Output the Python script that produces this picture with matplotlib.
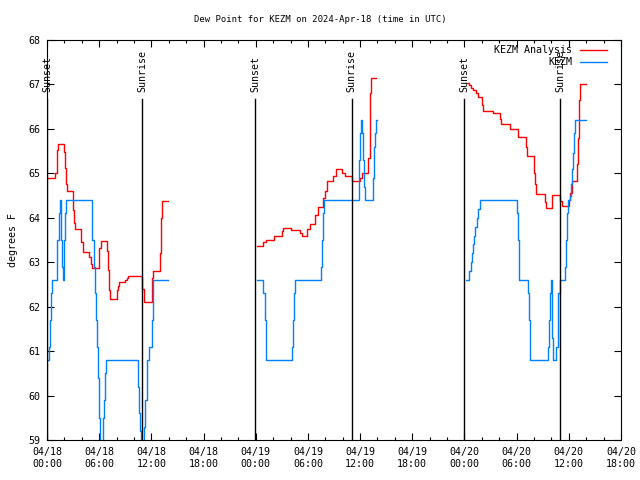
import numpy as np
import matplotlib
matplotlib.use('Agg')
import matplotlib.pyplot as plt

plt.rcParams['font.family'] = 'DejaVu Sans Mono'
plt.rcParams['font.size'] = 7.2

# hours since 04/18 00:00 UTC, step values (deg F); None splits the gaps
ana_t = [0.15, 0.92, 1.11, 1.19, 1.30, 1.95, 2.07, 2.18, 2.30, 2.95, 3.10, 3.18, 3.87, 3.95,
         4.10, 4.18, 4.86, 5.02, 5.21, 6.01, 6.17, 6.86, 6.97, 7.09, 7.24, 8.01, 8.12, 8.24,
         8.97, 9.16, 9.31, 10.0, 10.96, 11.11, 11.19, 12.03, 12.10, 12.22, 12.99, 13.10,
         13.22, 13.87, None,
         24.10, 24.87, 25.17, 26.09, 26.97, 27.16, 28.01, 29.08, 29.27, 29.92, 30.23, 30.84,
         31.19, 31.76, 31.99, 32.15, 32.91, 33.22, 33.87, 34.25, 35.02, 35.98, 36.21, 36.94,
         37.13, 37.24, 37.85, None,
         48.24, 48.5, 48.75, 49.0, 49.3, 49.58, 49.96, 50.15, 51.3, 52.07, 52.22, 53.22,
         54.21, 55.06, 55.17, 56.02, 56.13, 56.25, 57.24, 57.36, 58.12, 59.04, 59.2, 60.04,
         60.15, 60.31, 60.96, 61.07, 61.22, 61.34, 61.92]
ana_v = [64.89, 65.0, 65.26, 65.52, 65.65, 65.47, 65.11, 64.76, 64.6, 64.17, 63.88, 63.74, 63.65, 63.46,
         63.27, 63.22, 63.12, 62.97, 62.88, 63.31, 63.47, 63.25, 62.82, 62.37, 62.17, 62.37, 62.47, 62.55,
         62.6, 62.65, 62.7, 62.68, 62.39, 62.19, 62.1, 62.45, 62.65, 62.8, 63.2, 63.99,
         64.38, 64.38, None,
         63.36, 63.45, 63.5, 63.59, 63.7, 63.76, 63.72, 63.65, 63.59, 63.75, 63.87, 64.06,
         64.25, 64.45, 64.6, 64.83, 64.95, 65.09, 65.0, 64.94, 64.83, 64.9, 65.0, 65.34,
         66.8, 67.14, 67.14, None,
         67.03, 66.98, 66.93, 66.87, 66.8, 66.72, 66.54, 66.41, 66.35, 66.22, 66.11, 66.0,
         65.82, 65.6, 65.39, 65.0, 64.76, 64.53, 64.36, 64.23, 64.51, 64.38, 64.27, 64.4,
         64.56, 64.83, 65.2, 65.8, 66.65, 67.01, 67.01]

obs_t = [0.15, 0.26, 0.35, 0.43, 0.54, 1.19, 1.41, 1.53, 1.62, 1.72, 1.80, 1.95, 2.10, 2.22,
         5.21, 5.40, 5.55, 5.65, 5.75, 5.87, 5.98, 6.06, 6.40, 6.55, 6.65, 6.80,
         10.50, 10.60, 10.72, 10.80, 11.20, 11.32, 11.45, 11.55, 11.76, 12.03, 12.14, 12.22,
         13.87, None,
         24.18, 24.87, 25.02, 25.13, 25.21, 28.20, 28.28, 28.39, 28.51, 31.49, 31.61, 31.72,
         31.84, 35.90, 36.02, 36.13, 36.25, 36.36, 36.48, 36.59, 37.51, 37.62, 37.74, 37.85,
         37.89, None,
         48.16, 48.58, 48.70, 48.85, 48.97, 49.10, 49.25, 49.40, 49.60, 49.80, 54.02, 54.17,
         54.29, 54.32, 55.32, 55.40, 55.51, 55.55, 57.62, 57.74, 57.82, 57.97, 58.05, 58.16,
         58.58, 58.70, 58.81, 58.93, 59.58, 59.70, 59.82, 59.95, 60.10, 60.30, 60.42, 60.50,
         60.60, 60.69, 61.92]
obs_v = [60.8, 61.1, 61.7, 62.3, 62.6, 63.5, 64.1, 64.4, 63.5, 62.9, 62.6, 63.5, 64.1, 64.4,
         63.5, 62.9, 62.3, 61.7, 61.1, 60.4, 59.5, 58.4, 59.5, 59.9, 60.5, 60.8,
         60.2, 59.6, 59.2, 58.4, 59.3, 59.9, 60.5, 60.8, 61.1, 61.7, 62.3, 62.6,
         62.6, None,
         62.6, 62.3, 61.7, 61.1, 60.8, 61.1, 61.7, 62.3, 62.6, 62.9, 63.5, 64.1,
         64.4, 65.3, 65.9, 66.2, 65.9, 65.3, 64.7, 64.4, 64.9, 65.6, 65.9, 66.2,
         66.2, None,
         62.6, 62.8, 63.0, 63.2, 63.4, 63.6, 63.8, 64.0, 64.2, 64.4, 64.1, 63.5,
         62.9, 62.6, 62.3, 61.7, 61.1, 60.8, 61.1, 61.7, 62.3, 62.6, 61.3, 60.8,
         61.1, 61.7, 62.3, 62.6, 62.9, 63.5, 64.1, 64.4, 64.5, 64.75, 65.1, 65.45,
         65.9, 66.2, 66.2]

sunset = [0.02, 23.95, 47.97]
sunrise = [10.96, 35.02, 59.0]

tick_hours = list(range(0, 67, 6))
tick_labels = ['04/18\n00:00', '04/18\n06:00', '04/18\n12:00', '04/18\n18:00',
               '04/19\n00:00', '04/19\n06:00', '04/19\n12:00', '04/19\n18:00',
               '04/20\n00:00', '04/20\n06:00', '04/20\n12:00', '04/20\n18:00']

def arr(a):
    return np.array([np.nan if x is None else x for x in a], dtype=float)

fig = plt.figure(figsize=(6.4, 4.8), dpi=100)
ax = fig.add_axes([47/640, 40/480, 574/640, 400/480])

ax.plot(arr(ana_t), arr(ana_v), color='#ff0000', lw=1.0, drawstyle='steps-post', label='KEZM Analysis')
ax.plot(arr(obs_t), arr(obs_v), color='#0080ff', lw=1.0, drawstyle='steps-post', label='KEZM')

for x in sunset:
    ax.axvline(x, ymin=0, ymax=0.8525, color='black', lw=1.0)
    ax.text(x, 0.87, 'Sunset', rotation=90, ha='center', va='bottom',
            transform=ax.get_xaxis_transform())
for x in sunrise:
    ax.axvline(x, ymin=0, ymax=0.8525, color='black', lw=1.0)
    ax.text(x, 0.87, 'Sunrise', rotation=90, ha='center', va='bottom',
            transform=ax.get_xaxis_transform())

ax.set_xlim(0, 66)
ax.set_ylim(59, 68)
ax.set_xticks(tick_hours)
ax.set_xticklabels(tick_labels)
ax.set_xticks(range(0, 67, 2), minor=True)
ax.set_yticks(range(59, 69))
ax.tick_params(direction='in', top=True, right=True, length=5, width=0.8, pad=5)
ax.tick_params(which='minor', direction='in', top=True, length=2.5, width=0.8)
ax.tick_params(axis='y', pad=5)

ax.set_ylabel('degrees F', labelpad=7)
ax.set_title('Dew Point for KEZM on 2024-Apr-18 (time in UTC)', fontsize=6.4, pad=13,
             x=(320 - 47) / 574)

fig.legend(loc='upper right', bbox_to_anchor=(612/640, 1 - 40/480), frameon=False,
           markerfirst=False, handlelength=2.7, handletextpad=0.8, borderpad=0,
           labelspacing=0.2)

fig.savefig('out.png', dpi=100)
